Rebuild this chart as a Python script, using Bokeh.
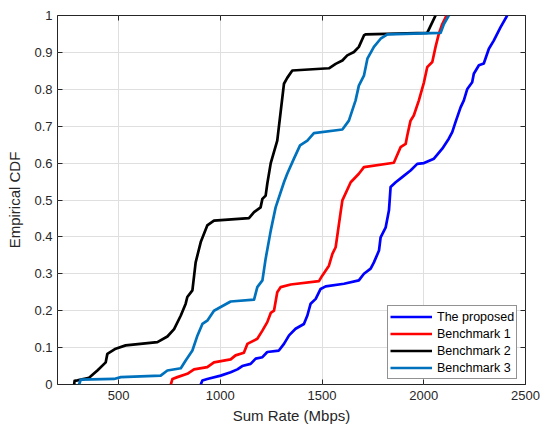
from bokeh.plotting import figure
from bokeh.models import (LinearAxis, FixedTicker, Legend, LegendItem, Range1d, CustomLabelingPolicy)
from bokeh.embed import file_html
from bokeh.resources import INLINE

# ---------------- data ----------------
proposed_rate = [904, 912, 936, 1002, 1051, 1084, 1108, 1149, 1174, 1207, 1231, 1288, 1313, 1338, 1370,
                 1411, 1428, 1444, 1469, 1493, 1518, 1608, 1681, 1706, 1739, 1755, 1780, 1788, 1813, 1829,
                 1837, 1862, 1894, 1935, 1968, 2001, 2050, 2091, 2123, 2140, 2156, 2181, 2197, 2214, 2238,
                 2246, 2271, 2295, 2320, 2344, 2377, 2410]
proposed_cdf = [0, 0.011, 0.015, 0.024, 0.033, 0.041, 0.05, 0.056, 0.07, 0.074, 0.088, 0.092, 0.11, 0.133, 0.151,
                0.164, 0.187, 0.219, 0.232, 0.259, 0.266, 0.273, 0.282, 0.3, 0.314, 0.331, 0.363, 0.399, 0.426, 0.472,
                0.535, 0.548, 0.562, 0.58, 0.598, 0.6, 0.612, 0.639, 0.666, 0.684, 0.711, 0.751, 0.77, 0.801, 0.819,
                0.842, 0.865, 0.87, 0.91, 0.932, 0.968, 1.0]

bench1_rate = [757, 765, 789, 838, 871, 936, 969, 1051, 1075, 1116, 1133, 1182, 1207, 1231, 1248,
               1264, 1280, 1297, 1346, 1485, 1501, 1534, 1551, 1567, 1591, 1600, 1641, 1681, 1706, 1853,
               1886, 1911, 1919, 1935, 1951, 1976, 2001, 2017, 2042, 2058, 2074, 2091, 2112]
bench1_cdf = [0, 0.015, 0.02, 0.029, 0.041, 0.047, 0.06, 0.068, 0.079, 0.086, 0.11, 0.124, 0.146, 0.169, 0.194,
              0.2, 0.25, 0.264, 0.271, 0.28, 0.295, 0.322, 0.354, 0.372, 0.465, 0.499, 0.548, 0.571, 0.589, 0.601,
              0.643, 0.652, 0.675, 0.715, 0.729, 0.77, 0.819, 0.86, 0.874, 0.915, 0.95, 0.977, 1.0]

bench2_rate = [282, 284, 298, 355, 396, 437, 445, 486, 535, 691, 740, 773, 806, 830, 838,
               863, 879, 904, 936, 969, 1141, 1166, 1198, 1207, 1223, 1231, 1248, 1280, 1313, 1329,
               1354, 1534, 1567, 1600, 1624, 1657, 1681, 1706, 1714, 2017, 2030, 2058]
bench2_cdf = [0, 0.01, 0.011, 0.018, 0.038, 0.06, 0.083, 0.097, 0.106, 0.115, 0.13, 0.15, 0.187, 0.219, 0.237,
              0.255, 0.331, 0.386, 0.431, 0.444, 0.451, 0.467, 0.48, 0.503, 0.512, 0.544, 0.6, 0.661, 0.815, 0.831,
              0.851, 0.857, 0.869, 0.878, 0.892, 0.901, 0.915, 0.946, 0.949, 0.953, 0.968, 1.0]

bench3_rate = [306, 314, 478, 511, 707, 740, 806, 830, 863, 888, 912, 936, 969, 1002, 1051,
               1166, 1182, 1207, 1223, 1248, 1272, 1313, 1329, 1362, 1392, 1428, 1460, 1600, 1632, 1665,
               1681, 1706, 1723, 1755, 1788, 1821, 2083, 2099, 2123]
bench3_cdf = [0, 0.013, 0.015, 0.02, 0.024, 0.038, 0.044, 0.065, 0.092, 0.133, 0.164, 0.173, 0.2, 0.21, 0.225,
              0.23, 0.264, 0.282, 0.341, 0.417, 0.48, 0.548, 0.571, 0.612, 0.648, 0.661, 0.681, 0.691, 0.715, 0.77,
              0.81, 0.837, 0.883, 0.915, 0.937, 0.949, 0.953, 0.977, 1.0]

series_names = ["The proposed", "Benchmark 1", "Benchmark 2", "Benchmark 3"]
x_ticks = [500, 1000, 1500, 2000, 2500]
x_tick_labels = ["500", "1000", "1500", "2000", "2500"]
y_ticks = [0, 0.1, 0.2, 0.3, 0.4, 0.5, 0.6, 0.7, 0.8, 0.9, 1]
y_tick_labels = ["0", "0.1", "0.2", "0.3", "0.4", "0.5", "0.6", "0.7", "0.8", "0.9", "1"]
x_limits = (200, 2500)
y_limits = (0, 1)

# ---------------- styling ----------------
FONT = "Liberation Sans"
AX_COLOR = "#262626"
colors = ["#0000FF", "#FF0000", "#000000", "#0072BD"]

p = figure(width=541, height=430, output_backend="svg", toolbar_location=None,
           x_range=Range1d(*x_limits), y_range=Range1d(*y_limits),
           min_border_left=57, min_border_right=16, min_border_top=15, min_border_bottom=46,
           x_axis_label="Sum Rate (Mbps)", y_axis_label="Empirical CDF")
p.background_fill_color = "white"
p.border_fill_color = "white"
p.outline_line_color = AX_COLOR
p.outline_line_width = 1

def style_axis(ax, ticks, labels, show_labels=True):
    ax.ticker = FixedTicker(ticks=ticks)
    ax.axis_line_color = None
    ax.major_tick_in = 5
    ax.major_tick_out = 0
    ax.major_tick_line_color = AX_COLOR
    ax.minor_tick_line_color = None
    ax.major_label_text_font = FONT
    ax.major_label_text_color = AX_COLOR
    ax.axis_label_text_font = FONT
    ax.axis_label_text_font_size = "15px"
    ax.axis_label_text_font_style = "normal"
    ax.axis_label_text_color = AX_COLOR
    if show_labels:
        ax.major_label_overrides = {t: l for t, l in zip(ticks, labels)}
        ax.major_label_text_font_size = "13px"
    else:
        # mirror axis: ticks only, no labels drawn
        ax.major_label_policy = CustomLabelingPolicy(
            code="for (const i of Array.from(indices)) { indices.unset(i) } return indices")
        ax.major_label_text_font_size = "0px"
        ax.major_label_standoff = 0

xa = p.xaxis[0]
ya = p.yaxis[0]
style_axis(xa, x_ticks, x_tick_labels)
style_axis(ya, y_ticks, y_tick_labels)
xa.major_label_standoff = 6
xa.axis_label_standoff = 4
ya.major_label_standoff = 5
ya.axis_label_standoff = 8

top_ax = LinearAxis()
right_ax = LinearAxis()
style_axis(top_ax, x_ticks, x_tick_labels, show_labels=False)
style_axis(right_ax, y_ticks, y_tick_labels, show_labels=False)
p.add_layout(top_ax, "above")
p.add_layout(right_ax, "right")

p.xgrid.ticker = FixedTicker(ticks=x_ticks)
p.ygrid.ticker = FixedTicker(ticks=y_ticks)
p.xgrid.grid_line_color = "#dfdfdf"
p.ygrid.grid_line_color = "#dfdfdf"

rates = [proposed_rate, bench1_rate, bench2_rate, bench3_rate]
cdfs = [proposed_cdf, bench1_cdf, bench2_cdf, bench3_cdf]
renderers = []
for xs, ys, c in zip(rates, cdfs, colors):
    r = p.line(xs, ys, line_color=c, line_width=2.7, line_join="round")
    renderers.append(r)

legend = Legend(items=[LegendItem(label=n, renderers=[r]) for n, r in zip(series_names, renderers)],
                location=(330, 5), orientation="vertical",
                label_text_font=FONT, label_text_font_size="12.5px", label_text_color="#000000",
                glyph_width=42, glyph_height=17, label_height=17, label_standoff=5,
                spacing=0, padding=2, margin=0,
                border_line_color=AX_COLOR, border_line_width=1,
                background_fill_color="white", background_fill_alpha=1)
p.add_layout(legend, "center")

open("out.html", "w").write(file_html(p, INLINE))
